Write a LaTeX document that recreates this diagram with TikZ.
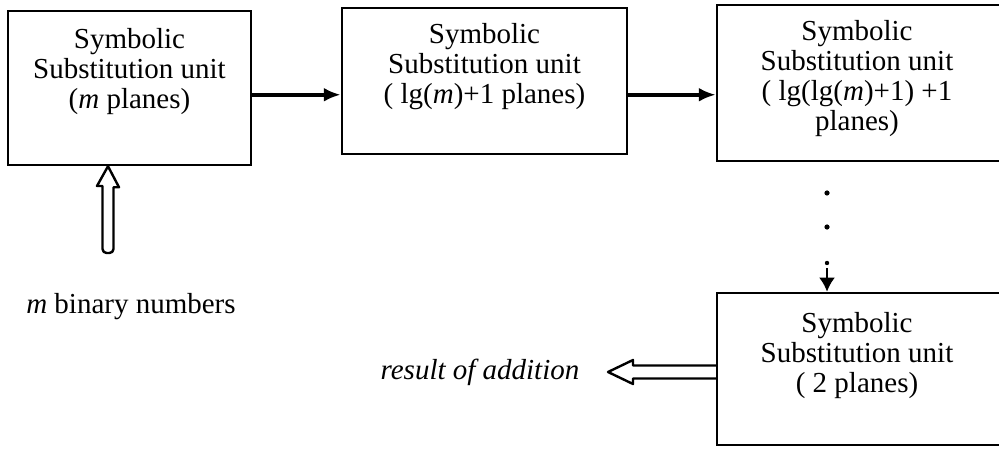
\documentclass[tikz,border=0pt]{standalone}
\usepackage{fontspec}
\setmainfont{Liberation Serif}
\usetikzlibrary{arrows.meta,calc}
\begin{document}
\begin{tikzpicture}[x=0.5pt,y=-0.5pt,
  unitbox/.style={draw, line width=1.25pt, inner sep=0pt, rectangle},
  unittext/.style={anchor=north, align=center, inner sep=0pt,
    font=\fontsize{14.5}{15}\selectfont},
  flow/.style={line width=1.8pt, -{Latex[length=8.5pt,width=7pt]}},
  hollow/.style={draw, line width=1.2pt, fill=white, line join=round},
  lbl/.style={inner sep=0pt, font=\fontsize{14.5}{15}\selectfont}]
\useasboundingbox (0,0) rectangle (999,453);
\begin{scope}
\clip (0,0) rectangle (999,453);
% boxes
\node[unitbox, minimum width=121.5pt, minimum height=77pt] (b1) at (129.5,88) {};
\node[unitbox, minimum width=142.5pt, minimum height=73pt] (b2) at (484.5,81) {};
\node[unitbox, minimum width=144pt, minimum height=78pt] (b3) at (861,83) {};
\node[unitbox, minimum width=144pt, minimum height=76pt] (b4) at (861,369) {};
\end{scope}
% texts
\node[unittext] (t1) at ([yshift=-9pt]b1.north) {Symbolic\\Substitution unit\\(\textit{m} planes)};
\node[unittext] (t2) at ([yshift=-8pt]b2.north) {Symbolic\\Substitution unit\\( lg(\textit{m})+1 planes)};
\node[unittext] (t3) at ([xshift=-2pt,yshift=-8pt]b3.north) {Symbolic\\Substitution unit\\( lg(lg(\textit{m})+1) +1\\planes)};
\node[unittext] (t4) at ([xshift=-2pt,yshift=-10pt]b4.north) {Symbolic\\Substitution unit\\( 2 planes)};
% flow arrows
\coordinate (a1) at ([yshift=-42.5pt]b1.north east);
\coordinate (a2) at ([yshift=-44pt]b2.north east);
\draw[flow] (a1) -- (b2.west |- a1);
\draw[flow] (a2) -- (b3.west |- a2);
% dots and short arrow
\fill (827,193) circle (1.3pt);
\fill (827,227) circle (1.3pt);
\fill (827,263) circle (1.1pt);
\coordinate (dotend) at (827,268);
\draw[line width=1.3pt, -{Latex[length=7pt,width=8pt]}] (dotend) -- (b4.north -| dotend);
% input hollow arrow
\coordinate (upin) at (108,253);
\coordinate (uptip) at (b1.south -| upin);
\draw[hollow] (uptip) -- ++(11,21) -- ++(-5.5,0)
  [rounded corners=2pt] -- (113.5,253) -- (102.5,253) [sharp corners] -- (102.5,186) -- ++(-5.5,0) -- cycle;
\node[lbl] (nums) at (131,307) {\textit{m} binary numbers};
% output hollow arrow
\coordinate (restip) at (608,372);
\coordinate (resbase) at (b4.west |- restip);
\draw[hollow] ($(resbase)+(0,-6.5)$) -- (633,365.5) -- (633,360) -- (restip)
  -- (633,384) -- (633,378.5) -- ($(resbase)+(0,6.5)$);
\node[lbl] (res) at (480,372) {\textit{result of addition}};
\end{tikzpicture}
\end{document}
